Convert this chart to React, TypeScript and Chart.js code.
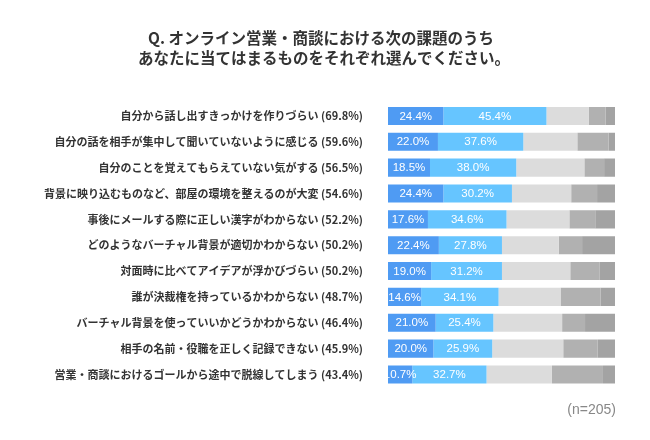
import React, { useEffect, useRef } from "react";
import { Chart, registerables } from "chart.js";

Chart.register(...registerables);

const titleLines = [
  "Q. オンライン営業・商談における次の課題のうち",
  "あなたに当てはまるものをそれぞれ選んでください。",
];

const categories = [
  "自分から話し出すきっかけを作りづらい",
  "自分の話を相手が集中して聞いていないように感じる",
  "自分のことを覚えてもらえていない気がする",
  "背景に映り込むものなど、部屋の環境を整えるのが大変",
  "事後にメールする際に正しい漢字がわからない",
  "どのようなバーチャル背景が適切かわからない",
  "対面時に比べてアイデアが浮かびづらい",
  "誰が決裁権を持っているかわからない",
  "バーチャル背景を使っていいかどうかわからない",
  "相手の名前・役職を正しく記録できない",
  "営業・商談におけるゴールから途中で脱線してしまう",
];

const totals = ["69.8", "59.6", "56.5", "54.6", "52.2", "50.2", "50.2", "48.7", "46.4", "45.9", "43.4"];

const seg1 = [24.4, 22.0, 18.5, 24.4, 17.6, 22.4, 19.0, 14.6, 21.0, 20.0, 10.7];
const seg2 = [45.4, 37.6, 38.0, 30.2, 34.6, 27.8, 31.2, 34.1, 25.4, 25.9, 32.7];
const seg3 = [18.6, 23.8, 30.0, 26.1, 27.7, 25.0, 30.1, 27.3, 30.3, 31.3, 28.8];
const seg4 = [7.4, 13.8, 8.7, 11.4, 11.4, 10.3, 13.0, 17.6, 10.1, 15.2, 22.5];
const seg5 = [4.2, 2.8, 4.8, 7.9, 8.7, 14.5, 6.7, 6.4, 13.2, 7.6, 5.3];

const sampleNote = "(n=205)";

const colors = ["#4f9bf3", "#66c5ff", "#dcdcdc", "#b1b1b1", "#a3a3a3"];

export default function App() {
  const ref = useRef<HTMLCanvasElement | null>(null);

  useEffect(() => {
    if (!ref.current) return;
    const labels = categories.map((c, i) => `${c} (${totals[i]}%)`);
    const series = [seg1, seg2, seg3, seg4, seg5];

    const decor = {
      id: "decor",
      afterDatasetsDraw(chart: any) {
        const ctx = chart.ctx;
        ctx.save();
        ctx.fillStyle = "#ffffff";
        ctx.font = '11.5px "Liberation Sans", Arial, sans-serif';
        ctx.textAlign = "center";
        ctx.textBaseline = "middle";
        [0, 1].forEach((di) => {
          const meta = chart.getDatasetMeta(di);
          meta.data.forEach((bar: any, i: number) => {
            const v = chart.data.datasets[di].data[i];
            const cx = (bar.x + bar.base) / 2;
            ctx.fillText(Number(v).toFixed(1) + "%", cx, bar.y + 0.5);
          });
        });
        ctx.restore();
      },
      afterDraw(chart: any) {
        const ctx = chart.ctx;
        ctx.save();
        ctx.fillStyle = "#333333";
        ctx.font = 'bold 15.5px "Noto Sans CJK JP", sans-serif';
        ctx.textAlign = "center";
        ctx.textBaseline = "middle";
        ctx.fillText(titleLines[0], 321, 38.5);
        ctx.fillText(titleLines[1], 324, 58.5);
        ctx.fillStyle = "#888888";
        ctx.font = '14px "Liberation Sans", Arial, sans-serif';
        ctx.textAlign = "right";
        ctx.fillText(sampleNote, 616, 410);
        ctx.restore();
      },
    };

    const chart = new Chart(ref.current, {
      type: "bar",
      data: {
        labels,
        datasets: series.map((d, i) => ({
          data: d,
          backgroundColor: colors[i],
          borderWidth: 0,
          barPercentage: 0.7,
          categoryPercentage: 1,
        })),
      },
      options: {
        indexAxis: "y",
        animation: false,
        responsive: false,
        maintainAspectRatio: false,
        layout: { padding: { top: 103, bottom: 52.6, right: 35, left: 0 } },
        plugins: {
          legend: { display: false },
          tooltip: { enabled: false },
          title: { display: false },
        },
        scales: {
          x: { stacked: true, min: 0, max: 100, display: false },
          y: {
            stacked: true,
            grid: { display: false, drawTicks: false },
            border: { display: false },
            ticks: {
              color: "#333333",
              padding: 25,
              font: { family: '"Noto Sans CJK JP", sans-serif', size: 11, weight: "bold" },
            },
            afterFit(scale: any) {
              scale.width = 388;
            },
          },
        },
      },
      plugins: [decor],
    } as any);
    return () => chart.destroy();
  }, []);

  return (
    <div style={{ position: "fixed", left: 0, top: 0, width: 650, height: 440, background: "#fff" }}>
      <canvas ref={ref} width={650} height={440} style={{ width: 650, height: 440 }} />
    </div>
  );
}
